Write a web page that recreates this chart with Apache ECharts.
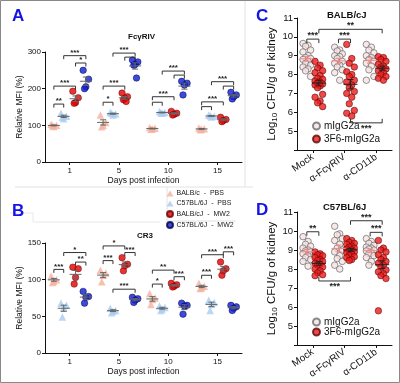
<!DOCTYPE html>
<html><head><meta charset="utf-8">
<script src="https://cdn.jsdelivr.net/npm/echarts@6/dist/echarts.min.js"></script>
<style>html,body{margin:0;padding:0;background:#fff}#c{width:400px;height:383px}</style>
</head><body><div id="c"></div>
<script>
// ---------- DATA ----------
const days = ['1', '5', '10', '15'];
const mouseGroups = ['BALB/c  -  PBS', 'C57BL/6J  -  PBS', 'BALB/cJ  -  MW2', 'C57BL/6J  -  MW2'];
// Panel A: FcγRIV relative MFI (%), per day [1,5,10,15]
const fcBalbPBS = [[103, 100, 97, 99], [128, 108, 100, 96], [94, 92, 90, 89], [93, 91, 89, 88]];
const fcC57PBS  = [[133, 125, 118, 122], [135, 131, 128, 133], [138, 135, 133, 134], [128, 125, 123, 126]];
const fcBalbMW2 = [[193, 175, 162, 160], [188, 178, 174, 170, 165], [138, 133, 130, 128], [122, 116, 113, 110]];
const fcC57MW2  = [[250, 226, 205, 200], [278, 273, 266, 264, 229], [220, 215, 210, 183], [190, 183, 178, 172]];
// Panel B: CR3 relative MFI (%)
const crBalbPBS = [[105, 100, 98, 96], [113, 109, 106, 97], [81, 75, 73, 66], [95, 91, 89, 88]];
const crC57PBS  = [[68, 65, 62, 49], [61, 58, 57, 55], [64, 62, 60, 58], [72, 69, 66, 58]];
const crBalbMW2 = [[117, 115, 103, 94], [130, 121, 119, 112], [95, 93, 91, 90], [124, 115, 112, 106]];
const crC57MW2  = [[84, 77, 76, 68], [76, 74, 72, 69], [68, 65, 64, 53], [65, 63, 61, 58]];
// significance: [dayIndex, groupFrom, groupTo, value, label]
const fcSig = [
  [0, 0, 1, 158, '**'], [0, 0, 2, 207, '***'], [0, 2, 3, 270, '*'], [0, 1, 3, 290, '***'],
  [1, 0, 1, 163, '*'], [1, 0, 2, 207, '***'], [1, 2, 3, 286, ''], [1, 1, 3, 297, '***'],
  [2, 0, 1, 163, ''], [2, 0, 2, 178, '***'], [2, 2, 3, 237, ''], [2, 1, 3, 248, '***'],
  [3, 0, 1, 151, ''], [3, 0, 2, 164, '***'], [3, 2, 3, 207, ''], [3, 1, 3, 219, '***']
];
const crSig = [
  [0, 0, 1, 114, '***'], [0, 2, 3, 124, '**'], [0, 1, 3, 137, '*'],
  [1, 0, 1, 126, '***'], [1, 0, 2, 146, '*'], [1, 2, 3, 137, '***'], [1, 1, 3, 87, '***'],
  [2, 0, 1, 94, '*'], [2, 0, 2, 113, '**'], [2, 2, 3, 104, '***'],
  [3, 0, 1, 106, '***'], [3, 0, 2, 134, '***'], [3, 2, 3, 138, '***']
];
// Panels C/D: Log10 CFU/g of kidney
const treatments = ['Mock', 'α-FcγRIV', 'α-CD11b'];
const abGroups = ['mIgG2a', '3F6-mIgG2a'];
const balbIgG = [
  [9.65, 9.55, 9.5, 9.3, 9.2, 9.0, 8.9, 8.85, 8.8, 8.7, 8.6, 8.5, 8.4, 8.3, 8.2, 7.9],
  [9.45, 9.3, 9.25, 9.1, 9.0, 8.95, 8.85, 8.7, 8.6, 8.5, 8.4, 8.25, 8.1, 7.7],
  [9.6, 9.45, 9.3, 9.15, 9.0, 8.9, 8.8, 8.7, 8.6, 8.45, 8.25, 7.9, 7.7]
];
const balb3F6 = [
  [8.7, 8.5, 8.35, 8.2, 8.1, 7.95, 7.8, 7.75, 7.65, 7.6, 7.55, 7.5, 7.45, 7.4, 7.3, 6.95, 6.8, 6.6, 6.5, 6.3],
  [9.6, 8.85, 8.6, 8.4, 8.15, 8.0, 7.9, 7.7, 7.6, 7.45, 7.3, 7.1, 7.0, 6.8, 6.45, 6.1, 5.95, 5.8],
  [8.95, 8.9, 8.8, 8.7, 8.55, 8.45, 8.4, 8.3, 8.2, 8.1, 8.0, 7.9, 7.8, 7.7]
];
const c57IgG = [
  [9.7, 9.45, 9.3, 9.2, 9.1, 9.0, 8.95, 8.9, 8.8, 8.7, 8.6, 8.5, 8.4, 8.15],
  [10.25, 9.85, 9.8, 9.6, 9.5, 9.3, 9.1, 9.0, 8.9, 8.7, 8.55, 8.4, 8.2, 8.0],
  [9.6, 9.45, 9.35, 9.25, 9.15, 9.1, 9.05, 9.0, 8.95, 8.85, 8.8, 8.7, 8.6, 8.4, 8.2]
];
const c573F6 = [
  [8.9, 8.8, 8.75, 8.7, 8.6, 8.5, 8.45, 8.4, 8.3, 8.25, 8.2, 8.1, 8.0, 7.9, 7.8, 7.7, 7.65],
  [9.6, 9.5, 9.4, 9.35, 9.3, 9.2, 9.15, 9.1, 9.05, 9.0, 8.95, 8.9, 8.85, 8.8, 8.7, 8.65, 8.6, 8.5, 8.45],
  [9.5, 9.1, 9.0, 8.9, 8.75, 8.6, 8.5, 8.4, 8.3, 8.2, 8.1, 7.95, 7.85, 7.75, 7.65, 7.5, 5.8]
];
// significance: [treatFrom, groupFrom, treatTo, groupTo, value, label, side(1 above,-1 below)]
const cSig = [[0, 0, 0, 1, 9.88, '***', 1], [1, 0, 1, 1, 9.88, '***', 1], [0, 1, 2, 1, 10.4, '**', 1], [1, 1, 2, 1, 5.44, '***', -1]];
const dSig = [[0, 0, 0, 1, 9.96, '**', 1], [1, 1, 2, 1, 10.54, '***', 1], [2, 0, 2, 1, 9.93, '***', 1], [0, 1, 1, 1, 7.37, '***', -1]];

// ---------- RENDER ----------
const FONT = '"Liberation Sans", Arial, Helvetica, sans-serif';
const chart = echarts.init(document.getElementById('c'));
const mean = a => a.reduce((s, v) => s + v, 0) / a.length;
const sem = a => { const m = mean(a); return Math.sqrt(a.reduce((s, v) => s + (v - m) * (v - m), 0) / (a.length - 1)) / Math.sqrt(a.length); };

const abOff = [-0.32, -0.12, 0.12, 0.33];
const abJit = [-1, 1, 0, -0.5, 0.5];
const abStyle = [
  { symbol: 'triangle', symbolSize: 7.5, itemStyle: { color: '#f5b09d' } },
  { symbol: 'triangle', symbolSize: 7.5, itemStyle: { color: '#a7cdf1' } },
  { symbol: 'circle', symbolSize: 6.5, itemStyle: { color: '#e40000', borderColor: '#6a0000', borderWidth: 0.6 } },
  { symbol: 'circle', symbolSize: 6.5, itemStyle: { color: '#0c1ed4', borderColor: '#00004a', borderWidth: 0.6 } }
];
const cdOff = [-0.19, 0.19];
const cdJit = [-1, 0.33, -0.33, 1];
const cdStyle = [
  { symbol: 'circle', symbolSize: 6.5, itemStyle: { color: '#f6e3e3', borderColor: '#6a6a6a', borderWidth: 0.9 } },
  { symbol: 'circle', symbolSize: 6.5, itemStyle: { color: '#ec1a1a', borderColor: '#5a0808', borderWidth: 0.7 } }
];
const cdMeanColor = ['#f08a8a', '#222'];

function errRender(hw, cw, color) {
  return function (params, api) {
    const x = api.value(0), m = api.value(1), s = api.value(2);
    const pm = api.coord([x, m]), pt = api.coord([x, m + s]), pb = api.coord([x, m - s]);
    const st = { stroke: color, lineWidth: 1 };
    return { type: 'group', children: [
      { type: 'line', shape: { x1: pm[0] - hw, y1: pm[1], x2: pm[0] + hw, y2: pm[1] }, style: st },
      { type: 'line', shape: { x1: pm[0], y1: pt[1], x2: pm[0], y2: pb[1] }, style: st },
      { type: 'line', shape: { x1: pm[0] - cw, y1: pt[1], x2: pm[0] + cw, y2: pt[1] }, style: st },
      { type: 'line', shape: { x1: pm[0] - cw, y1: pb[1], x2: pm[0] + cw, y2: pb[1] }, style: st }
    ] };
  };
}
function brRender(labels, sides, tick, fs) {
  return function (params, api) {
    const x1 = api.value(0), x2 = api.value(1), y = api.value(2);
    const p1 = api.coord([x1, y]), p2 = api.coord([x2, y]);
    const dir = sides[params.dataIndex];
    const t = tick * dir;
    const lab = labels[params.dataIndex];
    const ch = [{ type: 'polyline', shape: { points: [[p1[0], p1[1] + t], [p1[0], p1[1]], [p2[0], p2[1]], [p2[0], p2[1] + t]] },
      style: { stroke: '#333', lineWidth: 1, fill: null } }];
    if (lab) ch.push({ type: 'text', x: (p1[0] + p2[0]) / 2, y: p1[1] + 1,
      style: { text: lab, fill: '#222', font: 'bold ' + fs + 'px ' + FONT, align: 'center', textAlign: 'center',
        verticalAlign: dir > 0 ? 'bottom' : 'top', textVerticalAlign: dir > 0 ? 'bottom' : 'top' } });
    return { type: 'group', children: ch };
  };
}

const series = [];
function addAB(groups, sig, xi, yi) {
  groups.forEach((g, gi) => {
    const pts = [], errs = [];
    g.forEach((vals, d) => {
      vals.forEach((v, i) => pts.push([d + 0.5 + abOff[gi] + abJit[i % 5] * 0.055, v]));
      errs.push([d + 0.5 + abOff[gi], mean(vals), sem(vals)]);
    });
    series.push(Object.assign({ type: 'scatter', name: mouseGroups[gi], xAxisIndex: xi, yAxisIndex: yi, data: pts, z: 2, silent: true }, abStyle[gi]));
    series.push({ type: 'custom', xAxisIndex: xi, yAxisIndex: yi, data: errs, encode: { x: 0, y: 1 }, renderItem: errRender(6, 3, '#666'), z: 3, silent: true, clip: false });
  });
  series.push({ type: 'custom', xAxisIndex: xi, yAxisIndex: yi, clip: false, silent: true, z: 4,
    data: sig.map(s => [s[0] + 0.5 + abOff[s[1]], s[0] + 0.5 + abOff[s[2]], s[3]]), encode: { x: [0, 1], y: 2 },
    renderItem: brRender(sig.map(s => s[4]), sig.map(() => 1), 3.5, 8) });
}
function addCD(groups, sig, xi, yi) {
  groups.forEach((g, gi) => {
    const pts = [], errs = [];
    g.forEach((vals, t) => {
      vals.forEach((v, i) => pts.push([t + 0.5 + cdOff[gi] + cdJit[i % 4] * 0.12, v]));
      errs.push([t + 0.5 + cdOff[gi], mean(vals), sem(vals)]);
    });
    series.push(Object.assign({ type: 'scatter', name: abGroups[gi], xAxisIndex: xi, yAxisIndex: yi, data: pts, z: 2, silent: true }, cdStyle[gi]));
    series.push({ type: 'custom', xAxisIndex: xi, yAxisIndex: yi, data: errs, encode: { x: 0, y: 1 }, renderItem: errRender(7, 3, cdMeanColor[gi]), z: 3, silent: true, clip: false });
  });
  series.push({ type: 'custom', xAxisIndex: xi, yAxisIndex: yi, clip: false, silent: true, z: 4,
    data: sig.map(s => [s[0] + 0.5 + cdOff[s[1]], s[2] + 0.5 + cdOff[s[3]], s[4]]), encode: { x: [0, 1], y: 2 },
    renderItem: brRender(sig.map(s => s[5]), sig.map(s => s[6]), 4, 9) });
}
addAB([fcBalbPBS, fcC57PBS, fcBalbMW2, fcC57MW2], fcSig, 1, 0);
addAB([crBalbPBS, crC57PBS, crBalbMW2, crC57MW2], crSig, 3, 1);
addCD([balbIgG, balb3F6], cSig, 5, 2);
addCD([c57IgG, c573F6], dSig, 7, 3);

const axLine = { show: true, lineStyle: { color: '#111', width: 1 } };
const axTick = { show: true, length: 3, lineStyle: { color: '#111' } };
function catAxis(grid, data, ab) {
  return { type: 'category', gridIndex: grid, data: data, boundaryGap: true, axisLine: axLine,
    axisTick: Object.assign({ alignWithLabel: true }, axTick),
    axisLabel: ab ? { fontSize: 8, color: '#111', fontFamily: FONT, margin: 5 }
                  : { fontSize: 10, color: '#111', fontFamily: FONT, rotate: 35, margin: 6 },
    name: ab ? 'Days post infection' : '', nameLocation: 'middle', nameGap: 14,
    nameTextStyle: { fontSize: 8.5, color: '#111', fontFamily: FONT } };
}
function valX(grid, max) { return { type: 'value', gridIndex: grid, min: 0, max: max, show: false }; }

const option = {
  animation: false,
  backgroundColor: '#fff',
  grid: [
    { left: 45, top: 52, width: 197, height: 110 },
    { left: 45, top: 243, width: 197, height: 110 },
    { left: 297, top: 18, width: 95, height: 132 },
    { left: 297, top: 212, width: 95, height: 133 }
  ],
  xAxis: [catAxis(0, days, true), valX(0, 4), catAxis(1, days, true), valX(1, 4),
          catAxis(2, treatments, false), valX(2, 3), catAxis(3, treatments, false), valX(3, 3)],
  yAxis: [
    { type: 'value', gridIndex: 0, min: 0, max: 300, interval: 100 },
    { type: 'value', gridIndex: 1, min: 0, max: 150, interval: 50 },
    { type: 'value', gridIndex: 2, min: 4, max: 11, interval: 1 },
    { type: 'value', gridIndex: 3, min: 4, max: 11, interval: 1 }
  ].map((y, i) => Object.assign(y, {
    axisLine: axLine, axisTick: axTick, splitLine: { show: false },
    axisLabel: { fontSize: i < 2 ? 8 : 9.5, color: '#111', fontFamily: FONT, margin: 4,
      formatter: i < 2 ? '{value}' : (v => v === 4 ? '' : String(v)) },
    name: i < 2 ? 'Relative MFI (%)' : 'Log{sub|10} CFU/g of kidney',
    nameLocation: 'middle', nameGap: i < 2 ? 18 : 14, nameRotate: 90,
    nameTextStyle: i < 2 ? { fontSize: 8.5, color: '#111', fontFamily: FONT }
      : { fontSize: 11.5, color: '#111', fontFamily: FONT, rich: { sub: { fontSize: 8, fontFamily: FONT, color: '#111', padding: [6, 0, 0, 0] } } }
  })),
  legend: [
    { data: mouseGroups.map((n, i) => ({ name: n, icon: i < 2 ? 'triangle' : 'circle' })), orient: 'vertical',
      left: 166, top: 190, itemWidth: 7, itemHeight: 6, itemGap: 3, padding: 0, selectedMode: false,
      textStyle: { fontSize: 7, color: '#222', fontFamily: FONT, padding: [0, 0, 0, -2] } },
    { data: abGroups.map(n => ({ name: n, icon: 'circle' })), orient: 'vertical', left: 312, top: 121,
      itemWidth: 7, itemHeight: 7, itemGap: 3, padding: 0, selectedMode: false,
      textStyle: { fontSize: 10, color: '#111', fontFamily: FONT, padding: [0, 0, 0, -1] } },
    { data: abGroups.map(n => ({ name: n, icon: 'circle' })), orient: 'vertical', left: 312, top: 317,
      itemWidth: 7, itemHeight: 7, itemGap: 0, padding: 0, selectedMode: false,
      textStyle: { fontSize: 10, color: '#111', fontFamily: FONT, padding: [0, 0, 0, -1] } }
  ],
  graphic: [
    { type: 'rect', shape: { x: 0.5, y: 0.5, width: 399, height: 382 }, style: { fill: null, stroke: '#888', lineWidth: 1 }, silent: true },
    { type: 'polyline', shape: { points: [[15, 187], [253, 187]] }, style: { stroke: '#e2e2e2', lineWidth: 1, fill: null }, silent: true },
    { type: 'polyline', shape: { points: [[245, 1], [245, 187]] }, style: { stroke: '#e2e2e2', lineWidth: 1, fill: null }, silent: true },
    { type: 'polyline', shape: { points: [[167, 187], [167, 221], [236, 221]] }, style: { stroke: '#e2e2e2', lineWidth: 1, fill: null }, silent: true },
    { type: 'polyline', shape: { points: [[10, 213], [33, 213], [33, 222], [160, 222]] }, style: { stroke: '#e8e8e8', lineWidth: 1, fill: null }, silent: true },
    { type: 'text', left: 12, top: 8, style: { text: 'A', font: 'bold 17px ' + FONT, fill: '#1414e6' } },
    { type: 'text', left: 12, top: 203, style: { text: 'B', font: 'bold 17px ' + FONT, fill: '#1414e6' } },
    { type: 'text', left: 256, top: 8, style: { text: 'C', font: 'bold 17px ' + FONT, fill: '#1414e6' } },
    { type: 'text', left: 256, top: 202, style: { text: 'D', font: 'bold 17px ' + FONT, fill: '#1414e6' } },
    { type: 'text', left: 128, top: 33, style: { text: 'FcγRIV', font: 'bold 8px ' + FONT, fill: '#111' } },
    { type: 'text', left: 137, top: 232, style: { text: 'CR3', font: 'bold 8px ' + FONT, fill: '#111' } },
    { type: 'text', left: 327, top: 10, style: { text: 'BALB/cJ', font: 'bold 9.5px ' + FONT, fill: '#111' } },
    { type: 'text', left: 323, top: 202, style: { text: 'C57BL/6J', font: 'bold 9.5px ' + FONT, fill: '#111' } }
  ],
  series: series
};
chart.setOption(option);
</script></body></html>
